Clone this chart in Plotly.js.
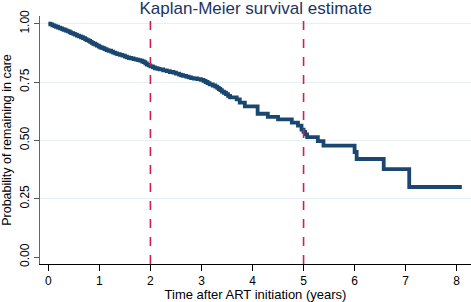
<!DOCTYPE html>
<html>
<head>
<meta charset="utf-8">
<script src="https://cdn.plot.ly/plotly-3.0.1.min.js"></script>
<style>
html,body{margin:0;padding:0;background:#fff;}
#chart{width:471px;height:302px;}
</style>
</head>
<body>
<div id="chart"></div>
<script>
// Kaplan-Meier step estimates
var timeYears = [0.00,0.04,0.08,0.12,0.15,0.19,0.23,0.27,0.30,0.34,0.38,0.42,0.45,0.49,0.52,0.56,0.60,0.64,0.68,0.72,0.75,0.79,0.82,0.85,0.88,0.92,0.95,0.99,1.02,1.06,1.10,1.14,1.18,1.23,1.27,1.31,1.35,1.40,1.45,1.50,1.54,1.58,1.62,1.67,1.72,1.76,1.80,1.84,1.87,1.90,1.93,1.97,2.00,2.05,2.09,2.14,2.18,2.25,2.32,2.38,2.45,2.50,2.56,2.60,2.64,2.70,2.75,2.80,2.85,2.92,2.99,3.04,3.08,3.12,3.16,3.22,3.27,3.31,3.34,3.37,3.40,3.44,3.48,3.52,3.56,3.69,3.75,3.85,4.10,4.30,4.50,4.77,4.89,4.96,5.00,5.03,5.07,5.28,5.39,6.00,6.04,6.57,7.07,8.10];
var survival  = [1.000,0.997,0.993,0.990,0.987,0.983,0.980,0.977,0.974,0.970,0.967,0.963,0.960,0.956,0.953,0.949,0.946,0.942,0.938,0.934,0.930,0.926,0.922,0.918,0.914,0.910,0.906,0.902,0.898,0.895,0.891,0.887,0.884,0.880,0.876,0.873,0.870,0.866,0.863,0.859,0.856,0.853,0.851,0.848,0.846,0.844,0.842,0.838,0.835,0.830,0.825,0.821,0.817,0.813,0.809,0.806,0.804,0.800,0.797,0.793,0.790,0.786,0.782,0.779,0.776,0.773,0.770,0.767,0.765,0.762,0.759,0.755,0.750,0.745,0.740,0.735,0.730,0.725,0.720,0.715,0.709,0.704,0.698,0.691,0.684,0.676,0.662,0.646,0.614,0.601,0.590,0.576,0.563,0.546,0.536,0.526,0.514,0.497,0.477,0.450,0.420,0.377,0.300,0.300];
var refLines = [2, 5];
var xTicks = [0,1,2,3,4,5,6,7,8];
var yTicks = [0,0.25,0.5,0.75,1];
var yTickText = ["0.00","0.25","0.50","0.75","1.00"];

var font = "Liberation Sans, Arial, Helvetica, sans-serif";

var shapes = refLines.map(function(v){
  return {type:'line', xref:'x', yref:'paper', x0:v, x1:v, y0:0, y1:1,
          line:{color:'#d21f50', width:1.6, dash:'dash'}};
});

var trace = {
  x: timeYears, y: survival, type:'scatter', mode:'lines',
  line:{shape:'hv', color:'#1a476f', width:3.8},
  hoverinfo:'skip'
};

var layout = {
  width:471, height:302,
  margin:{l:40, r:0, t:16, b:38},
  paper_bgcolor:'#fff', plot_bgcolor:'#fff',
  showlegend:false,
  font:{family:font, color:'#000', size:12},
  title:{text:'Kaplan-Meier survival estimate', x:0.543, xanchor:'center', y:0.972, yanchor:'middle',
         font:{family:font, size:17, color:'#1c3461'}},
  xaxis:{range:[-0.163,8.28], tickvals:xTicks, ticks:'outside', ticklen:6, tickcolor:'#000',
         showline:true, linecolor:'#000', linewidth:1, showgrid:false, zeroline:false,
         automargin:true,
         tickfont:{family:font, size:12, color:'#000'},
         title:{text:'Time after ART initiation (years)', standoff:2, font:{family:font, size:13, color:'#000'}}},
  yaxis:{range:[-0.03,1.033], tickvals:yTicks, ticktext:yTickText, tickangle:-90, ticks:'outside', ticklen:5, tickcolor:'#555',
         showline:true, linecolor:'#666', linewidth:1.5, showgrid:true, gridcolor:'#e6eff1', gridwidth:1,
         zeroline:true, zerolinecolor:'#fff',
         tickfont:{family:font, size:12, color:'#000'},
         title:{text:'Probability of remaining in care', standoff:3, font:{family:font, size:12.5, color:'#000'}}},
  shapes: shapes
};

Plotly.newPlot('chart', [trace], layout, {staticPlot:true, displayModeBar:false});
</script>
</body>
</html>
